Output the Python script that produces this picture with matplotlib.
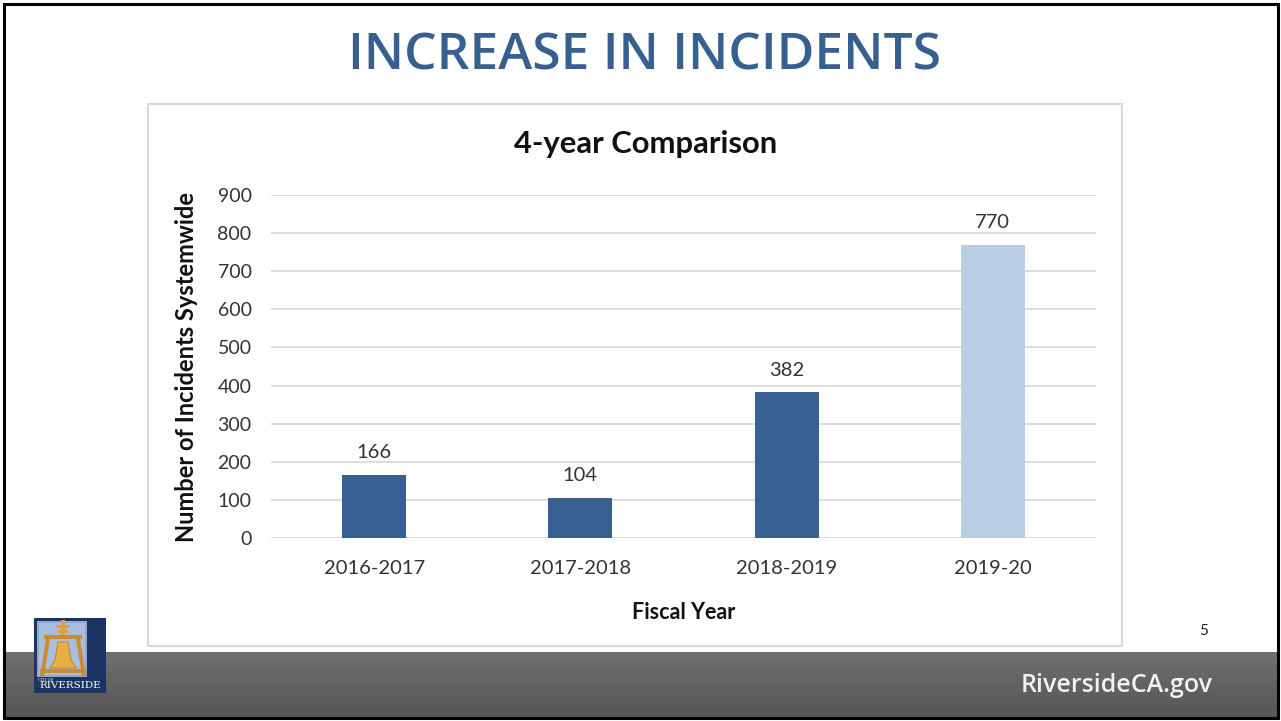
import matplotlib
matplotlib.use("Agg")
import matplotlib.pyplot as plt
import numpy as np
from matplotlib.patches import Rectangle, Polygon

categories = ["2016-2017", "2017-2018", "2018-2019", "2019-20"]
values = [166, 104, 382, 770]
bar_colors = ["#375F91", "#375F91", "#375F91", "#B9CDE5"]
yticks = [0, 100, 200, 300, 400, 500, 600, 700, 800, 900]

W, H = 1281, 721
fig = plt.figure(figsize=(W / 100, H / 100), dpi=100)
fig.patch.set_facecolor("white")

def fx(x):
    return x / W

def fy(y):
    return 1 - y / H

# background overlay axes for slide decoration
bg = fig.add_axes([0, 0, 1, 1])
bg.set_xlim(0, W)
bg.set_ylim(H, 0)
bg.axis("off")

# bottom gray gradient band
grad = np.linspace(0, 1, 64).reshape(-1, 1)
bg.imshow(grad, extent=[4, W - 3, 718, 652],
          cmap=matplotlib.colors.LinearSegmentedColormap.from_list("g", ["#707070", "#555555"]),
          aspect="auto", zorder=1)
bg.set_xlim(0, W)
bg.set_ylim(H, 0)

# slide border
bg.add_patch(Rectangle((4, 4), W - 7, H - 7, fill=False, edgecolor="black", lw=2.2, zorder=5))

# chart box
bg.add_patch(Rectangle((148, 104), 974, 542, fill=False, edgecolor="#D9D9D9", lw=1.5, zorder=2))

# Title
bg.text(644, 56, "INCREASE IN INCIDENTS", ha="center", va="center", color="#36608F",
        fontsize=37, fontweight="semibold", family="Open Sans", zorder=3)

# chart title
bg.text(646, 144, "4-year Comparison", ha="center", va="center", color="#111111",
        fontsize=22.3, fontweight="bold", family="Lato", zorder=3)

# page number
bg.text(1204, 631, "5", ha="center", va="center", color="#222222", fontsize=11, family="Lato", zorder=3)

# footer url
bg.text(1213, 685, "RiversideCA.gov", ha="right", va="center", color="#F2F2F2",
        fontsize=18, fontweight="semibold", family="Open Sans", zorder=3)

# logo
bg.add_patch(Rectangle((34, 618), 72, 75, facecolor="#1B3463", edgecolor="none", zorder=3))
bg.add_patch(Rectangle((37, 621), 50, 56, facecolor="#8FA9CF", edgecolor="none", zorder=3))
bg.add_patch(Rectangle((39, 623), 46, 52, facecolor="#A9BEDD", edgecolor="none", zorder=3))
gold = "#D9A23A"
bg.add_patch(Rectangle((61, 620), 4, 16, facecolor=gold, zorder=4))
bg.add_patch(Rectangle((56, 625), 14, 3, facecolor=gold, zorder=4))
bg.add_patch(Rectangle((58, 630), 10, 2.5, facecolor=gold, zorder=4))
bg.add_patch(Rectangle((44, 635), 38, 4, facecolor="#C98C34", zorder=4))
bg.add_patch(Polygon([[46, 639], [50, 639], [44, 676], [40, 676]], closed=True, facecolor="#C98C34", zorder=4))
bg.add_patch(Polygon([[76, 639], [80, 639], [86, 676], [82, 676]], closed=True, facecolor="#C98C34", zorder=4))
bg.add_patch(Polygon([[58, 642], [68, 642], [71, 660], [76, 668], [50, 668], [55, 660]], closed=True,
                     facecolor="#E8B040", edgecolor="#B77A22", lw=0.6, zorder=5))
bg.add_patch(Rectangle((40, 669), 46, 4, facecolor="#C98C34", zorder=4))
bg.text(38, 680, "CITY OF", ha="left", va="center", color="white", fontsize=2.5, family="DejaVu Serif", zorder=6)
bg.text(70, 686, "RIVERSIDE", ha="center", va="center", color="white", fontsize=7.5, family="DejaVu Serif", zorder=6)

# main chart axes
x0, x1 = 271, 1096
y0, y1 = 538, 195
ax = fig.add_axes([fx(x0), fy(y0), fx(x1 - x0), (y0 - y1) / H])
ax.set_facecolor("none")
x = np.arange(len(categories))
ax.bar(x, values, width=0.31, color=bar_colors, zorder=3)
ax.set_xlim(-0.5, len(categories) - 0.5)
ax.set_ylim(0, 900)
ax.set_yticks(yticks)
ax.set_yticklabels([str(t) for t in yticks])
ax.set_xticks(x)
ax.set_xticklabels(categories)
ax.grid(axis="y", color="#D9D9D9", lw=1.3, zorder=0)
ax.set_axisbelow(True)
for s in ax.spines.values():
    s.set_visible(False)
ax.tick_params(axis="y", length=0, labelsize=14, colors="#333333", pad=14)
ax.tick_params(axis="x", length=0, labelsize=14.5, colors="#333333", pad=16)
for lab in ax.get_xticklabels() + ax.get_yticklabels():
    lab.set_family("Lato")

for xi, v in zip(x, values):
    ax.annotate(str(v), (xi, v), xytext=(0, 10), textcoords="offset points", ha="center", va="bottom",
                fontsize=14.5, color="#333333", family="Lato")

ax.set_xlabel("Fiscal Year", fontsize=15.5, fontweight="bold", family="Lato", color="#111111", labelpad=18)
ax.set_ylabel("Number of Incidents Systemwide", fontsize=17, fontweight="bold", family="Lato",
              color="#111111", labelpad=14)

fig.savefig("out.png", dpi=100)
